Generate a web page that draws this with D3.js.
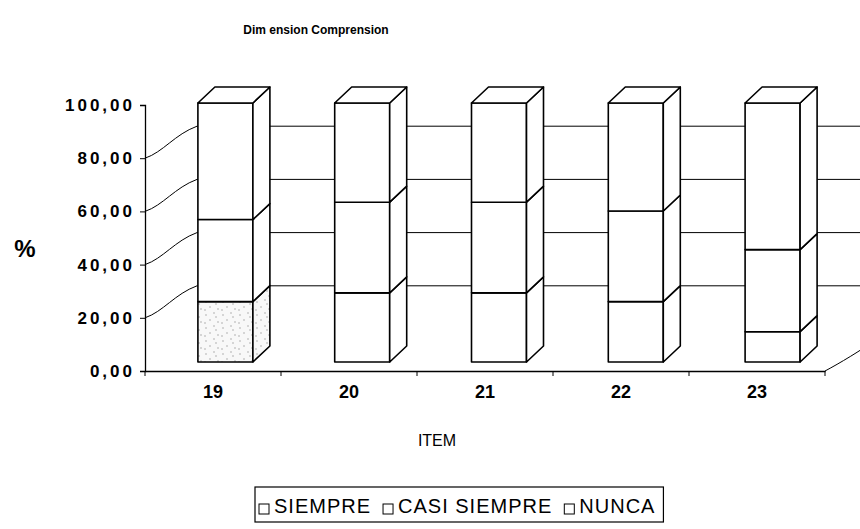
<!DOCTYPE html>
<html>
<head>
<meta charset="utf-8">
<script src="https://cdn.jsdelivr.net/npm/d3@7"></script>
<style>
  body { margin: 0; background: #fff; }
  svg { display: block; font-family: "Liberation Sans", Arial, sans-serif; }
</style>
</head>
<body>
<svg id="chart" width="860" height="529"></svg>
<script>
const width = 860;
const height = 529;
const svg = d3.select("#chart");

// data
const items = ["19", "20", "21", "22", "23"];
const series = ["SIEMPRE", "CASI SIEMPRE", "NUNCA"];
const siempre = [23.3, 26.7, 26.7, 23.3, 11.7];
const casiSiempre = [31.7, 35.0, 35.0, 35.0, 31.7];
const nunca = [45.0, 38.3, 38.3, 41.7, 56.6];
const yTicks = [0, 20, 40, 60, 80, 100];

const rows = items.map((it, i) => ({
    item: it, "SIEMPRE": siempre[i], "CASI SIEMPRE": casiSiempre[i], "NUNCA": nunca[i]
}));
const stacked = d3.stack().keys(series)(rows);

// front plane of the 3d box
const x = d3.scaleBand().domain(items).range([145, 825]);
const y = d3.scaleLinear().domain([0, 100]).range([371, 105]);
const depth = { dx: 52, dy: -32 };

// bars sit a bit inside the box
const barX = d3.scaleBand().domain(items).range([157, 841]);
const barY = d3.scaleLinear().domain([0, 100]).range([362, 103]);
const barW = 55;
const barDepth = { dx: 17, dy: -16 };

const defs = svg.append("defs");
const pat = defs.append("pattern")
    .attr("id", "stipple")
    .attr("patternUnits", "userSpaceOnUse")
    .attr("width", 17).attr("height", 13);
pat.append("rect").attr("width", 17).attr("height", 13).attr("fill", "#f8f8f8");
[[2, 3], [10, 1], [6, 8], [14, 10], [1, 11], [12, 5]].forEach(p => {
    pat.append("circle").attr("cx", p[0]).attr("cy", p[1]).attr("r", 0.7).attr("fill", "#999");
});

// title
svg.append("text")
    .attr("x", 316).attr("y", 34)
    .attr("text-anchor", "middle")
    .style("font-size", "12px").style("font-weight", "bold")
    .text("Dim ension Comprension");

const grid = svg.append("g").attr("stroke", "#000").attr("fill", "none").attr("stroke-width", 1);

// left wall grid lines (slightly curved)
yTicks.filter(v => v > 0 && v < 100).forEach(v => {
    const x0 = x.range()[0], y0 = y(v);
    const x1 = x0 + depth.dx, y1 = y0 + depth.dy;
    grid.append("path")
        .attr("d", `M${x0},${y0} C${x0 + 18},${y0 - 6} ${x1 - 22},${y1 + 8} ${x1},${y1}`);
});

// back wall grid lines
yTicks.filter(v => v > 0 && v < 100).forEach(v => {
    grid.append("line")
        .attr("x1", x.range()[0] + depth.dx).attr("y1", y(v) + depth.dy)
        .attr("x2", x.range()[1] + depth.dx).attr("y2", y(v) + depth.dy);
});

// floor: right edge
grid.append("path")
    .attr("d", `M${x.range()[1]},${y(0)} C${x.range()[1] + 15},${y(0) - 8} ${x.range()[1] + 35},${y(0) - 20} ${x.range()[1] + depth.dx},${y(0) + depth.dy}`);

// y axis
const yAxis = svg.append("g")
    .attr("transform", `translate(${x.range()[0]},0)`)
    .call(d3.axisLeft(y).tickValues(yTicks).tickSize(5).tickPadding(5)
        .tickFormat(d => d3.format(".2f")(d).replace(".", ",")));
yAxis.select(".domain").attr("stroke", "#000").attr("stroke-width", 1.3);
yAxis.selectAll(".tick line").attr("stroke", "#000");
yAxis.selectAll("text")
    .attr("fill", "#000")
    .style("font-size", "17px").style("font-weight", "bold")
    .style("letter-spacing", "3px");

// x axis
const xAxis = svg.append("g")
    .attr("transform", `translate(0,${y(0)})`)
    .call(d3.axisBottom(x).tickSize(0).tickPadding(14));
xAxis.select(".domain").attr("stroke", "#000").attr("stroke-width", 1.3);
xAxis.selectAll("text")
    .attr("fill", "#000")
    .style("font-size", "18px").style("font-weight", "bold");
xAxis.selectAll(".sep")
    .data(d3.range(items.length + 1))
    .enter().append("line")
    .attr("class", "sep")
    .attr("x1", i => x.range()[0] + i * x.step())
    .attr("x2", i => x.range()[0] + i * x.step())
    .attr("y1", 0).attr("y2", 5)
    .attr("stroke", "#000");

// bars
const bars = svg.append("g").attr("stroke", "#000").attr("stroke-width", 1.6).attr("stroke-linejoin", "round");

stacked.forEach((layer, si) => {
    layer.forEach(d => {
        const it = d.data.item;
        const left = barX(it) + barX.bandwidth() / 2 - barW / 2;
        const right = left + barW;
        const yTop = barY(d[1]), yBot = barY(d[0]);
        const fill = (si === 0 && it === items[0]) ? "url(#stipple)" : "#fff";

        bars.append("rect")
            .attr("x", left).attr("y", yTop)
            .attr("width", barW).attr("height", yBot - yTop)
            .attr("fill", fill);

        bars.append("path")
            .attr("d", `M${right},${yBot} L${right + barDepth.dx},${yBot + barDepth.dy} L${right + barDepth.dx},${yTop + barDepth.dy} L${right},${yTop} Z`)
            .attr("fill", fill);

        if (si === series.length - 1) {
            bars.append("path")
                .attr("d", `M${left},${yTop} L${left + barDepth.dx},${yTop + barDepth.dy} L${right + barDepth.dx},${yTop + barDepth.dy} L${right},${yTop} Z`)
                .attr("fill", "#fff");
        }
    });
});

// axis titles
svg.append("text")
    .attr("x", 25).attr("y", 257)
    .attr("text-anchor", "middle")
    .style("font-size", "24px").style("font-weight", "bold")
    .text("%");

svg.append("text")
    .attr("x", 437).attr("y", 446)
    .attr("text-anchor", "middle")
    .style("font-size", "16px")
    .text("ITEM");

// legend: items laid out one after another
const legend = svg.append("g").attr("transform", "translate(255,487)");
const legendBox = legend.append("rect")
    .attr("height", 35)
    .attr("fill", "#fff").attr("stroke", "#000").attr("stroke-width", 1.2);

let cursor = 4;
series.forEach(s => {
    const g = legend.append("g").attr("transform", `translate(${cursor},0)`);
    g.append("rect")
        .attr("x", 0).attr("y", 17).attr("width", 10).attr("height", 10)
        .attr("fill", "#fff").attr("stroke", "#000");
    const t = g.append("text")
        .attr("x", 15).attr("y", 26)
        .style("font-size", "20px")
        .style("letter-spacing", "1px")
        .text(s);
    cursor += 15 + t.node().getComputedTextLength() + 12;
});
legendBox.attr("width", cursor - 4);
</script>
</body>
</html>
